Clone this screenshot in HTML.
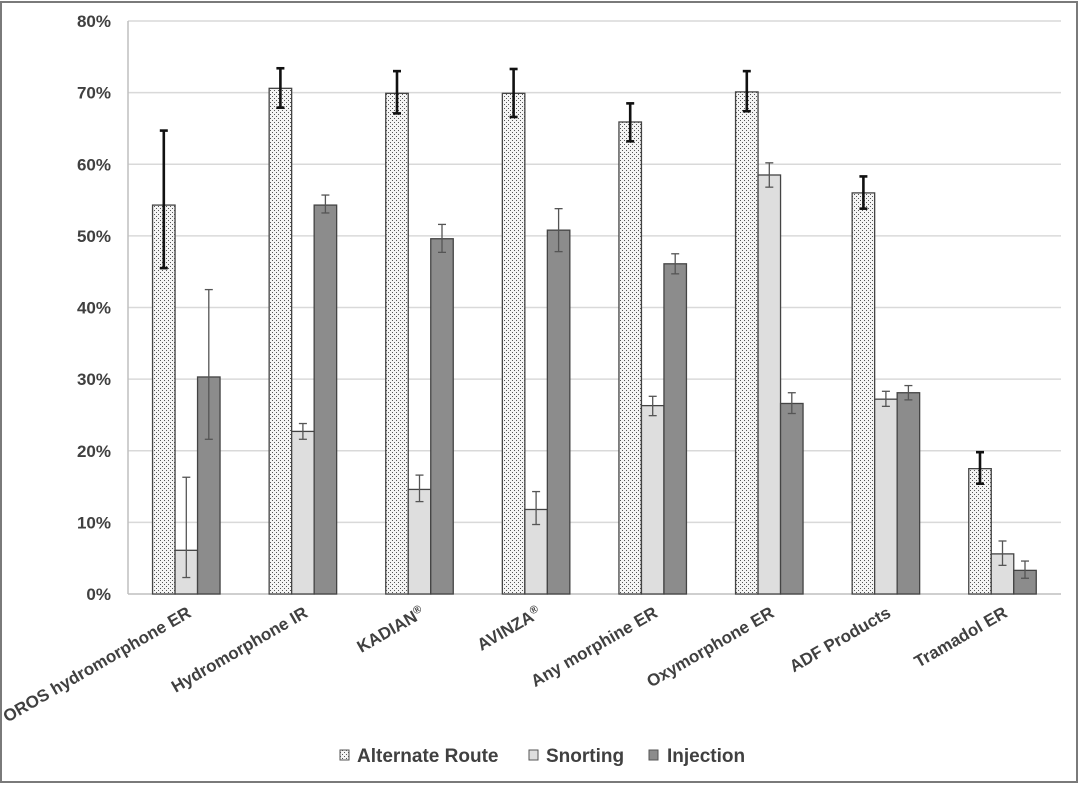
<!DOCTYPE html>
<html><head><meta charset="utf-8"><style>
body{margin:0;background:#fff}
svg{display:block;font-family:"Liberation Sans","DejaVu Sans",sans-serif}
</style></head><body>
<svg width="1080" height="785" viewBox="0 0 1080 785" xmlns="http://www.w3.org/2000/svg">
<defs>
<pattern id="dots" width="4" height="4" patternUnits="userSpaceOnUse">
<rect width="4" height="4" fill="#f4f4f4"/>
<rect x="0" y="0" width="1" height="1" fill="#555"/>
<rect x="2" y="2" width="1" height="1" fill="#555"/>
</pattern>
</defs>
<rect x="1" y="2" width="1076" height="780" fill="#fff" stroke="#7a7a7a" stroke-width="2"/>
<g id="grid" stroke="#d9d9d9" stroke-width="1.5"></g>
<g id="ylab" font-size="17" font-weight="bold" fill="#404040" text-anchor="end"></g>
<g id="bars"></g>
<g id="xlab" font-size="17" font-weight="bold" fill="#404040" text-anchor="end"></g>
<g font-size="19" font-weight="bold" fill="#404040">
<rect x="340" y="750" width="9" height="10" fill="url(#dots)" stroke="#555"/>
<text x="357" y="762">Alternate Route</text>
<rect x="529" y="750" width="9" height="10" fill="#dedede" stroke="#555"/>
<text x="546" y="762">Snorting</text>
<rect x="649" y="750" width="9" height="10" fill="#8c8c8c" stroke="#555"/>
<text x="667" y="762">Injection</text>
</g>
</svg>
<script>
const ns="http://www.w3.org/2000/svg";
const y0=594,k=7.1625,L=128,W=116.6;
function el(p,t,a,txt){const e=document.createElementNS(ns,t);for(const i in a)e.setAttribute(i,a[i]);if(txt)e.textContent=txt;(typeof p=="string"?document.getElementById(p):p).appendChild(e);return e;}
for(let i=0;i<=8;i++){const y=y0-i*10*k;
 el("grid","line",{x1:L,x2:1061,y1:y,y2:y,stroke:i==0?"#bfbfbf":"#d9d9d9"});
 el("ylab","text",{x:111,y:y+6},i*10+"%");}
el("grid","line",{x1:L,x2:L,y1:21,y2:y0,stroke:"#bfbfbf"});
const names=["OROS hydromorphone ER","Hydromorphone IR","KADIAN","AVINZA","Any morphine ER","Oxymorphone ER","ADF Products","Tramadol ER"];
const d=[
[[54.3,45.5,64.7],[6.1,2.3,16.3],[30.3,21.6,42.5]],
[[70.6,67.9,73.4],[22.7,21.6,23.8],[54.3,53.2,55.7]],
[[69.9,67.1,73.0],[14.6,12.9,16.6],[49.6,47.7,51.6]],
[[69.9,66.6,73.3],[11.8,9.7,14.3],[50.8,47.8,53.8]],
[[65.9,63.2,68.5],[26.3,24.9,27.6],[46.1,44.7,47.5]],
[[70.1,67.4,73.0],[58.5,56.8,60.2],[26.6,25.2,28.1]],
[[56.0,53.8,58.3],[27.2,26.2,28.3],[28.1,27.1,29.1]],
[[17.5,15.4,19.8],[5.6,4.0,7.4],[3.3,2.2,4.6]]];
const fills=["url(#dots)","#dedede","#8c8c8c"];
const bw=22.5;
d.forEach((g,i)=>{const c=L+W*(i+0.5);
 g.forEach((v,j)=>{const x=c-1.5*bw+j*bw;const y=y0-v[0]*k;
  el("bars","rect",{x:x,y:y,width:bw,height:v[0]*k,fill:fills[j],stroke:"#444","stroke-width":1.3});});
 g.forEach((v,j)=>{const cx=c-1.5*bw+j*bw+bw/2;const y1=y0-v[1]*k,y2=y0-v[2]*k;
  const col=j==0?"#111":"#555",sw=j==0?2.6:1.3;
  el("bars","line",{x1:cx,x2:cx,y1:y1,y2:y2,stroke:col,"stroke-width":sw});
  el("bars","line",{x1:cx-4,x2:cx+4,y1:y1,y2:y1,stroke:col,"stroke-width":sw});
  el("bars","line",{x1:cx-4,x2:cx+4,y1:y2,y2:y2,stroke:col,"stroke-width":sw});});
 const t=el("xlab","text",{transform:`translate(${c+6},${616}) rotate(-30)`},names[i]);
 if(i==2||i==3){el(t,"tspan",{"font-size":"11",dy:"-6"},"®");}
});
</script>
</body></html>
